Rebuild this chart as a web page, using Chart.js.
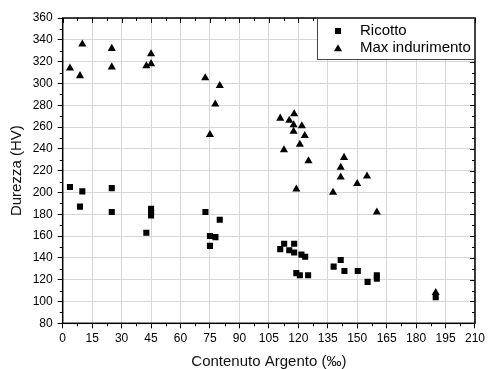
<!DOCTYPE html>
<html>
<head>
<meta charset="utf-8">
<script src="https://cdn.jsdelivr.net/npm/chart.js@4/dist/chart.umd.min.js"></script>
<style>
  body { margin: 0; background: #fff; }
  #wrap { width: 488px; height: 369px; }
</style>
</head>
<body>
<div id="wrap"><canvas id="hvChart" width="488" height="369"></canvas></div>
<script>
// Dati
const ricottoX = [3.7, 10, 8.8, 25, 25, 42.6, 45, 45, 45, 72.7, 75, 77.8, 75, 80,
    110.8, 112.8, 115.4, 117.9, 117.9, 121.6, 123.5, 119, 120.8, 125,
    138, 141.6, 143.5, 150.3, 155.3, 160, 160, 190];
const ricottoY = [205, 201, 187, 204, 182, 163, 185, 182, 179, 182, 160, 159, 151, 175,
    148, 153, 147, 153, 145, 143, 141, 126, 124, 124,
    132, 138, 128, 128, 118, 121, 124, 104];

const maxX = [3.7, 8.8, 10, 25, 25, 42.6, 45, 45, 72.6, 75, 77.7, 80,
    110.8, 112.7, 115.4, 117.9, 117.6, 117.6, 119, 120.8, 121.8, 123.3, 125.2,
    137.7, 141.6, 141.6, 143.3, 150, 155, 160, 190];
const maxY = [314, 307, 336, 332, 315, 316, 318, 327, 305, 253, 281, 298,
    268, 239, 266, 272, 262, 256, 203, 244, 261, 252, 229,
    200, 214, 223, 232, 208, 215, 182, 108];

const seriesNames = ['Ricotto', 'Max indurimento'];
const xTicks = { min: 0, max: 210, step: 15, minor: 7.5 };
const yTicks = { min: 80, max: 360, step: 20, minor: 10 };

const FONT = 'Liberation Sans, Arial, sans-serif';

function toPoints(xs, ys) {
    return xs.map((x, i) => ({ x: x, y: ys[i] }));
}

// Cornice, tacche minori, assi speculari e legenda
const framePlugin = {
    id: 'frame',
    afterDraw(chart) {
        const { ctx, chartArea: a, scales } = chart;
        const xs = scales.x, ys = scales.y;
        ctx.save();
        ctx.strokeStyle = '#000';
        ctx.lineWidth = 1;

        // tacche asse x
        for (let v = xTicks.min; v <= xTicks.max + 0.001; v += xTicks.minor) {
            const px = Math.round(xs.getPixelForValue(v)) + 0.5;
            const major = Math.abs(v / xTicks.step - Math.round(v / xTicks.step)) < 0.001;
            const len = major ? 5 : 3;
            ctx.beginPath();
            if (!major) { ctx.moveTo(px, a.bottom); ctx.lineTo(px, a.bottom + len); }
            ctx.moveTo(px, a.top); ctx.lineTo(px, a.top + len);
            ctx.stroke();
        }
        // tacche asse y
        for (let v = yTicks.min; v <= yTicks.max + 0.001; v += yTicks.minor) {
            const py = Math.round(ys.getPixelForValue(v)) + 0.5;
            const major = v % yTicks.step === 0;
            const len = major ? 5 : 3;
            ctx.beginPath();
            if (!major) { ctx.moveTo(a.left, py); ctx.lineTo(a.left - len, py); }
            ctx.moveTo(a.right, py); ctx.lineTo(a.right - len, py);
            ctx.stroke();
        }

        // cornice
        ctx.lineWidth = 1.5;
        ctx.strokeRect(a.left, a.top, a.right - a.left, a.bottom - a.top);

        // legenda
        const lw = 158, lh = 41;
        const lx = a.right - lw, ly = a.top;
        ctx.fillStyle = '#fff';
        ctx.fillRect(lx, ly, lw, lh);
        ctx.lineWidth = 1;
        ctx.strokeStyle = '#444';
        ctx.strokeRect(lx + 0.5, ly + 0.5, lw - 1, lh);
        ctx.font = '15px ' + FONT;
        ctx.textBaseline = 'middle';
        ctx.textAlign = 'left';
        chart.data.datasets.forEach((ds, i) => {
            const cy = ly + 13 + i * 17;
            ctx.fillStyle = '#000';
            Chart.helpers.drawPoint(ctx, {
                pointStyle: ds.pointStyle, radius: ds.pointRadius, borderWidth: 0, rotation: 0
            }, lx + 21, cy + (ds.pointStyle === 'triangle' ? 1 : 0));
            ctx.fillStyle = '#000';
            ctx.fillText(ds.label, lx + 43, cy);
        });
        ctx.restore();
    }
};

new Chart(document.getElementById('hvChart'), {
    type: 'scatter',
    data: {
        datasets: [
            {
                label: seriesNames[0],
                data: toPoints(ricottoX, ricottoY),
                pointStyle: 'rect',
                pointRadius: 4.3,
                pointHoverRadius: 4.3,
                backgroundColor: '#000',
                borderColor: '#000',
                borderWidth: 0
            },
            {
                label: seriesNames[1],
                data: toPoints(maxX, maxY),
                pointStyle: 'triangle',
                pointRadius: 4.7,
                pointHoverRadius: 4.7,
                backgroundColor: '#000',
                borderColor: '#000',
                borderWidth: 0
            }
        ]
    },
    options: {
        responsive: false,
        animation: false,
        layout: { padding: { top: 18, right: 11, left: 0, bottom: 0 } },
        plugins: {
            legend: { display: false },
            tooltip: { enabled: false }
        },
        scales: {
            x: {
                type: 'linear',
                min: xTicks.min,
                max: xTicks.max,
                ticks: { stepSize: xTicks.step, color: '#000', padding: 3, maxRotation: 0,
                    font: { family: FONT, size: 12 } },
                grid: { color: '#d6d6d6', tickColor: '#000', tickLength: 5, drawTicks: true },
                border: { display: false },
                title: { display: true, text: 'Contenuto Argento (‰)', color: '#111',
                    font: { family: FONT, size: 15, lineHeight: 1 }, padding: { top: 0, bottom: 0 } },
                afterFit(scale) { scale.height = 45.7; }
            },
            y: {
                type: 'linear',
                min: yTicks.min,
                max: yTicks.max,
                ticks: { stepSize: yTicks.step, color: '#000', padding: 5,
                    font: { family: FONT, size: 12 } },
                grid: { color: '#d6d6d6', tickColor: '#000', tickLength: 5, drawTicks: true },
                border: { display: false },
                title: { display: true, text: 'Durezza (HV)', color: '#111',
                    font: { family: FONT, size: 15, lineHeight: 1.2 }, padding: { top: 8, bottom: 0 } },
                afterFit(scale) { scale.width = 62.7; }
            }
        }
    },
    plugins: [framePlugin]
});
</script>
</body>
</html>
